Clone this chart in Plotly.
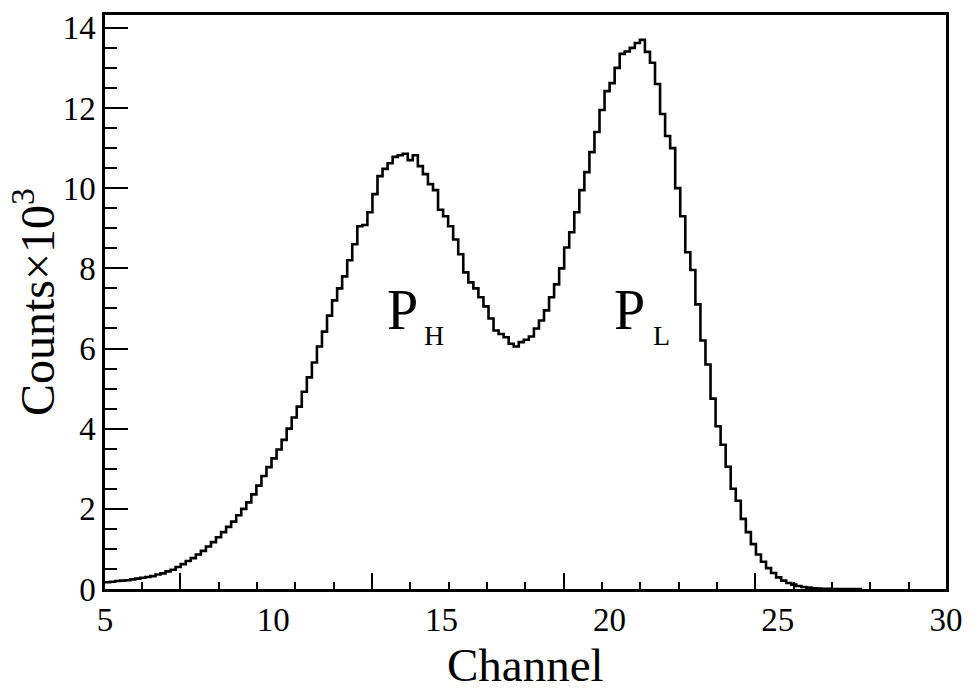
import numpy as np
import plotly.graph_objects as go

# histogram: channel spectrum, counts in units of 10^3
bin_start = 5.0
bin_width = 0.15
counts = [
    0.17, 0.18, 0.20, 0.21, 0.22, 0.24, 0.26, 0.28, 0.30, 0.32,
    0.36, 0.39, 0.44, 0.48, 0.55, 0.62, 0.70, 0.77, 0.86, 0.95,
    1.06, 1.17, 1.29, 1.42, 1.55, 1.68, 1.84, 2.00, 2.16, 2.36,
    2.58, 2.82, 3.04, 3.26, 3.48, 3.72, 4.00, 4.28, 4.55, 4.92,
    5.28, 5.65, 6.05, 6.42, 6.82, 7.20, 7.50, 7.80, 8.20, 8.60,
    9.05, 9.08, 9.40, 9.85, 10.30, 10.48, 10.62, 10.78, 10.82, 10.86,
    10.70, 10.82, 10.55, 10.35, 10.10, 9.95, 9.46, 9.30, 9.05, 8.72,
    8.35, 7.90, 7.65, 7.50, 7.28, 7.05, 6.75, 6.45, 6.36, 6.28,
    6.12, 6.05, 6.16, 6.22, 6.30, 6.50, 6.70, 6.95, 7.28, 7.60,
    8.00, 8.52, 8.90, 9.40, 9.95, 10.40, 10.90, 11.40, 11.95, 12.42,
    12.62, 13.00, 13.35, 13.41, 13.50, 13.62, 13.70, 13.40, 13.13, 12.60,
    11.85, 11.30, 11.00, 10.00, 9.30, 8.40, 7.96, 7.10, 6.20, 5.60,
    4.75, 4.06, 3.60, 3.05, 2.50, 2.20, 1.75, 1.42, 1.12, 0.86,
    0.68, 0.52, 0.40, 0.29, 0.21, 0.15, 0.11, 0.075, 0.05, 0.035,
    0.02, 0.012, 0.006, 0.003, 0.0, 0.0, 0.0, 0.0, 0.0, 0.0,
]
x_labels = [5, 10, 15, 20, 25, 30]
y_labels = [0, 2, 4, 6, 8, 10, 12, 14]

edges = bin_start + bin_width * np.arange(len(counts) + 1)
y_step = counts + [counts[-1]]

FONT = "Liberation Serif, Times New Roman, serif"

fig = go.Figure()
fig.add_trace(go.Scatter(
    x=edges, y=y_step, mode="lines", line_shape="hv",
    line=dict(color="black", width=2.6), showlegend=False,
    hoverinfo="skip",
))
# empty trace so the tick-only overlay axis gets drawn
fig.add_trace(go.Scatter(x=[], y=[], xaxis="x2", showlegend=False))

# peak labels
fig.add_annotation(x=13.85, y=6.95, text="P", showarrow=False,
                   font=dict(family=FONT, size=56, color="black"))
fig.add_annotation(x=14.78, y=6.32, text="H", showarrow=False,
                   font=dict(family=FONT, size=28, color="black"))
fig.add_annotation(x=20.6, y=6.95, text="P", showarrow=False,
                   font=dict(family=FONT, size=56, color="black"))
fig.add_annotation(x=21.55, y=6.32, text="L", showarrow=False,
                   font=dict(family=FONT, size=28, color="black"))

# axis titles as annotations (standoff is capped by the margins)
fig.add_annotation(xref="paper", yref="paper", x=0.5, y=0, yanchor="top",
                   yshift=-48, text="Channel", showarrow=False,
                   font=dict(family=FONT, size=47, color="black"))
fig.add_annotation(xref="paper", yref="paper", x=0, y=0.5, xanchor="center",
                   xshift=-71, textangle=-90, text="Counts×10<sup>3</sup>",
                   showarrow=False, font=dict(family=FONT, size=48, color="black"))

fig.update_layout(
    width=958, height=678,
    margin=dict(l=97, r=20, t=2, b=97),
    paper_bgcolor="white", plot_bgcolor="white",
    font=dict(family=FONT, color="black", size=33),
    xaxis=dict(
        range=[5, 30], tickvals=x_labels, ticks="",
        showline=True, linecolor="black", linewidth=2.5, mirror=True,
        showgrid=False, zeroline=False,
        tickfont=dict(size=33),
    ),
    xaxis2=dict(
        range=[5, 30], overlaying="x", anchor="y", side="bottom",
        showticklabels=False, showline=False, showgrid=False, zeroline=False,
        ticks="inside", tick0=7.237, dtick=5.697, ticklen=16, tickwidth=1.5,
        tickcolor="black",
        minor=dict(ticks="inside", tick0=6.098, dtick=1.1394, ticklen=7,
                   tickwidth=2, tickcolor="black", showgrid=False),
    ),
    yaxis=dict(
        range=[0, 14.32], tickvals=y_labels, ticks="inside", ticklen=23,
        tickwidth=1.5, tickcolor="black",
        minor=dict(ticks="inside", dtick=0.5, ticklen=12, tickwidth=2,
                   tickcolor="black", showgrid=False),
        showline=True, linecolor="black", linewidth=2.5, mirror=True,
        showgrid=False, zeroline=False,
        tickfont=dict(size=33),
    ),
)

fig.write_html("out.html")
